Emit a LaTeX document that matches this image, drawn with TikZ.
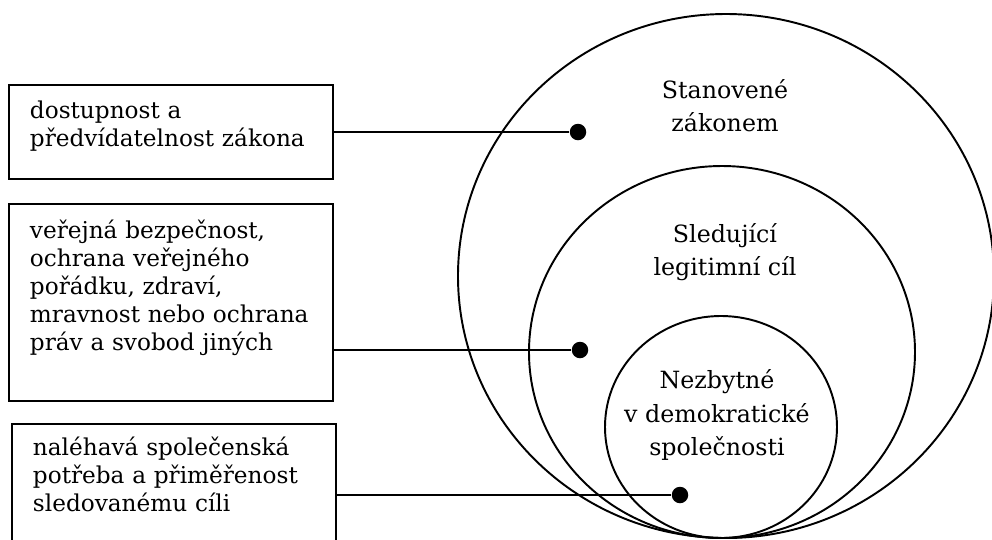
\documentclass[tikz,border=0pt]{standalone}
\usepackage{fontspec}
\setmainfont{DejaVu Serif}

\tikzset{
  infobox/.style={draw,line width=1.1pt,anchor=north west,align=left,
    inner xsep=0.42cm,inner ysep=0pt,text width=5.64cm,
    font=\fontsize{13.2}{15.9}\selectfont},
  ringlabel/.style={align=center,font=\fontsize{13.5}{18.8}\selectfont},
  dot/.style={circle,fill,inner sep=0pt,minimum size=0.33cm}
}

\begin{document}
\begin{tikzpicture}[x=0.02cm,y=-0.02cm,line width=1.1pt]
  \useasboundingbox (0,0) rectangle (992,539);

  \draw (726,276) ellipse [x radius=268, y radius=262];
  \draw (722,352) ellipse [x radius=193, y radius=186];
  \draw (721,427) ellipse [x radius=116, y radius=111];

    \node (ring1) [ringlabel] at (725,106) {Stanovené\\zákonem};
    \node (ring2) [ringlabel] at (725,252) {Sledující\\legitimní cíl};
    \node (ring3) [ringlabel] at (717,415) {Nezbytné\\v demokratické\\společnosti};

  \node (box1) [infobox,text height=0.68cm,text depth=1.2cm] at (8,84)
    {dostupnost a\\předvídatelnost zákona};
  \node (box2) [infobox,text height=0.7cm,text depth=3.24cm] at (8,203)
    {veřejná bezpečnost,\\ochrana veřejného\\pořádku, zdraví,\\mravnost nebo ochrana\\práv a svobod jiných};
  \node (box3) [infobox,text height=0.64cm,text depth=1.8cm] at (11,423)
    {naléhavá společenská\\potřeba a přiměřenost\\sledovanému cíli};

    \node (d1) [dot] at (578,132) {};
    \node (d2) [dot] at (580,350) {};
    \node (d3) [dot] at (680,495) {};

  \draw (box1.east |- d1) -- (d1);
  \draw (box2.east |- d2) -- (d2);
  \draw (box3.east |- d3) -- (d3);
\end{tikzpicture}
\end{document}
